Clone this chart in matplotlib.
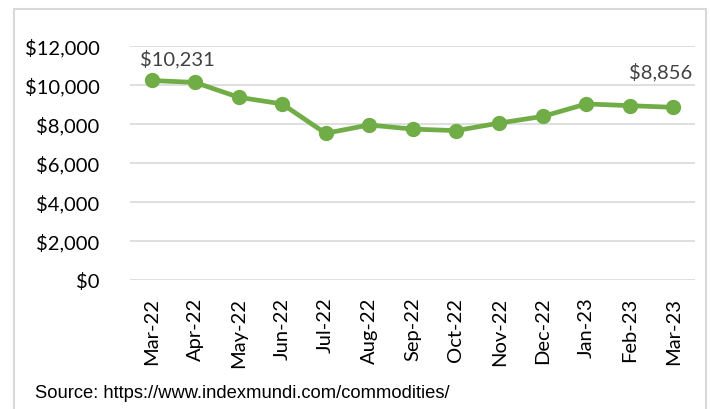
import matplotlib.pyplot as plt
from matplotlib.patches import Rectangle
from matplotlib.ticker import FuncFormatter

# monthly prices
months = ["Mar-22", "Apr-22", "May-22", "Jun-22", "Jul-22", "Aug-22", "Sep-22",
          "Oct-22", "Nov-22", "Dec-22", "Jan-23", "Feb-23", "Mar-23"]
prices = [10231, 10130, 9370, 9030, 7520, 7950, 7740, 7660, 8050, 8390, 9030, 8940, 8856]
source = "Source: https://www.indexmundi.com/commodities/"

GREEN = "#70AD47"
GRID = "#D9D9D9"

plt.rcParams['font.family'] = ['Lato', 'DejaVu Sans']

fig = plt.figure(figsize=(7.1, 4.1), dpi=100)
ax = fig.add_axes([130 / 710, 1 - 281 / 410, 565 / 710, 234 / 410])

x = list(range(len(months)))
ax.plot(x, prices, color=GREEN, linewidth=3.4, marker="o", markersize=10,
        solid_joinstyle="round", zorder=3)

ax.set_xlim(-0.5, len(months) - 0.5)
ax.set_ylim(0, 12000)
ax.set_yticks(range(0, 12001, 2000))
ax.yaxis.set_major_formatter(FuncFormatter(lambda v, p: "${:,.0f}".format(v)))
ax.set_xticks(x)
ax.set_xticklabels(months, rotation=90)
ax.tick_params(axis="both", length=0, labelsize=14.5, colors="black")
ax.tick_params(axis="y", pad=22)
ax.tick_params(axis="x", pad=12)
ax.grid(axis="y", color=GRID, linewidth=1.2)
ax.set_axisbelow(True)
for s in ax.spines.values():
    s.set_visible(False)

# first and last value labels
ax.annotate("${:,}".format(prices[0]), (x[0], prices[0]), xytext=(-8.5, 16),
            textcoords="offset points", ha="left", va="center",
            fontsize=14.5, color="#404040")
ax.annotate("${:,}".format(prices[-1]), (x[-1], prices[-1]), xytext=(13.5, 26),
            textcoords="offset points", ha="right", va="center",
            fontsize=14.5, color="#404040")

# outer frame
fig.patches.append(Rectangle((14 / 710, -0.05), 692 / 710, 1.05 - 10 / 410,
                             transform=fig.transFigure, fill=False,
                             edgecolor=GRID, linewidth=1.5))

fig.text(35 / 710, 1 - 394 / 410, source, family="Liberation Sans",
         fontsize=13.2, va="center", ha="left", color="black")

fig.savefig("out.png", dpi=100)
